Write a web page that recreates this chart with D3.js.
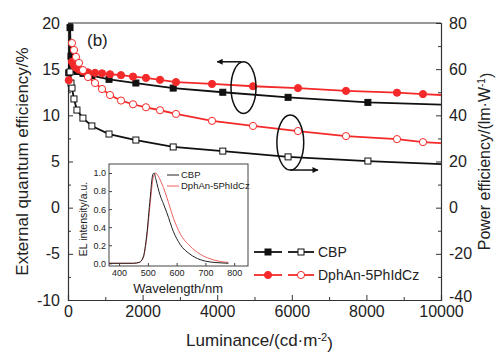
<!DOCTYPE html>
<html>
<head>
<meta charset="utf-8">
<script src="https://cdn.jsdelivr.net/npm/d3@7"></script>
<style>
  body { margin: 0; background: #fff; }
  text { font-family: "Liberation Sans", Arial, sans-serif; fill: #222; }
</style>
</head>
<body>
<svg id="chart" width="496" height="353"></svg>
<script>
// luminance (cd/m2) and efficiencies
var lumCBP = [20, 54, 80, 107, 160, 240, 400, 640, 1100, 1820, 2820, 4150, 5900, 8040, 10000];
var eqeCBP = [14.6, 19.5, 16.4, 15.5, 15.0, 14.75, 14.55, 14.3, 13.9, 13.5, 12.95, 12.5, 11.95, 11.4, 11.15];
var peCBP  = [null, 58.8, 54.0, 51.8, 47.1, 42.3, 38.8, 35.4, 31.9, 29.3, 26.3, 24.5, 22.0, 20.2, 18.9];

var lumDph = [20, 107, 161, 214, 295, 402, 536, 724, 912, 1126, 1421, 1743, 2091, 2467, 2895, 3861, 4960, 6166, 7453, 8820, 9517, 10000];
var eqeDph = [13.8, 15.8, 15.4, 15.15, 14.95, 14.75, 14.65, 14.6, 14.55, 14.45, 14.35, 14.2, 14.05, 13.85, 13.6, 13.4, 13.15, 12.95, 12.65, 12.45, 12.3, 12.2];
var peDph  = [null, 71.3, 68.3, 65.3, 62.7, 59.6, 56.6, 54.0, 51.4, 48.8, 46.4, 44.8, 43.5, 42.2, 40.6, 37.6, 35.4, 33.2, 31.0, 29.7, 28.4, 28.0];

// inset EL spectra
var wl     = [365, 400, 450, 470, 484, 496, 508, 517, 522, 528, 535, 542, 554, 566, 589, 612, 647, 682, 716, 751, 780];
var elCBP  = [0, 0, 0, 0.01, 0.07, 0.31, 0.72, 0.98, 1.0, 0.93, 0.84, 0.76, 0.66, 0.56, 0.35, 0.21, 0.10, 0.04, 0.015, 0.005, 0];
var elDph  = [0, 0, 0, 0.01, 0.06, 0.28, 0.66, 0.92, 0.98, 1.0, 0.97, 0.93, 0.84, 0.73, 0.50, 0.33, 0.19, 0.10, 0.05, 0.02, 0.01];

var xTicks = [0, 2000, 4000, 6000, 8000, 10000];
var yLeftTicks = [-10, -5, 0, 5, 10, 15, 20];
var yRightTicks = [-40, -20, 0, 20, 40, 60, 80];

var black = "#111", red = "#f42a2a";

var margin = { top: 23, right: 55, bottom: 53, left: 68 };
var width = 496 - margin.left - margin.right;   // 373
var height = 353 - margin.top - margin.bottom;  // 277

var svg = d3.select("#chart");
var g = svg.append("g").attr("transform", "translate(" + margin.left + "," + margin.top + ")");

var x = d3.scaleLinear().domain([0, 10000]).range([0, width]);
var yL = d3.scaleLinear().domain([-10, 20]).range([height, 0]);
var yR = d3.scaleLinear().domain([-40, 80]).range([height, 0]);

var plain = function(d) { return String(d); }; // hyphen minus like the original

// axes (ticks pointing inward)
function styleAxis(sel) {
  sel.selectAll("path.domain").attr("stroke", "#333").attr("stroke-width", 1.2);
  sel.selectAll(".tick line").attr("stroke", "#333");
  sel.selectAll("text").style("font-size", "16px").attr("fill", "#222");
}
function minor(sel, axis) { sel.call(axis); sel.selectAll("text").remove(); sel.select(".domain").remove(); sel.selectAll("line").attr("stroke", "#333"); }

var xAxis = g.append("g").attr("transform", "translate(0," + height + ")")
  .call(d3.axisBottom(x).tickValues(xTicks).tickSize(-5).tickPadding(6).tickFormat(plain));
styleAxis(xAxis);
g.append("g").attr("transform", "translate(0," + height + ")")
  .call(function(s) { minor(s, d3.axisBottom(x).tickValues(d3.range(1000, 10000, 2000)).tickSize(-3)); });

var yAxisL = g.append("g").call(d3.axisLeft(yL).tickValues(yLeftTicks).tickSize(-5).tickPadding(8).tickFormat(plain));
styleAxis(yAxisL);
g.append("g").call(function(s) { minor(s, d3.axisLeft(yL).tickValues(d3.range(-7.5, 20, 5)).tickSize(-3)); });

var yAxisR = g.append("g").attr("transform", "translate(" + width + ",0)")
  .call(d3.axisRight(yR).tickValues(yRightTicks).tickSize(-5).tickPadding(8).tickFormat(plain));
styleAxis(yAxisR);
yAxisR.selectAll(".tick text").filter(function(d) { return d === -40; }).attr("dy", "0.1em");
g.append("g").attr("transform", "translate(" + width + ",0)")
  .call(function(s) { minor(s, d3.axisRight(yR).tickValues(d3.range(-30, 80, 20)).tickSize(-3)); });

// top frame
g.append("line").attr("x1", 0).attr("x2", width).attr("y1", 0).attr("y2", 0)
  .attr("stroke", "#333").attr("stroke-width", 1.2);

// axis labels
svg.append("text").attr("transform", "translate(22," + (margin.top + height / 2) + ") rotate(-90)")
  .attr("text-anchor", "middle").attr("dy", "0.35em").style("font-size", "17px")
  .text("External quantum efficiency/%");

var rl = svg.append("text").attr("transform", "translate(484," + (margin.top + height / 2) + ") rotate(-90)")
  .attr("text-anchor", "middle").attr("dy", "0.35em").style("font-size", "16px");
rl.append("tspan").text("Power efficiency/(lm\u00B7W");
rl.append("tspan").attr("dy", "-0.45em").style("font-size", "10px").text("-1");
rl.append("tspan").attr("dy", "0.45em").text(")");

var xl = svg.append("text").attr("x", margin.left + width / 2 + 5).attr("y", 346)
  .attr("text-anchor", "middle").style("font-size", "17px");
xl.append("tspan").text("Luminance/(cd\u00B7m");
xl.append("tspan").attr("dy", "-0.45em").style("font-size", "11px").text("-2");
xl.append("tspan").attr("dy", "0.45em").text(")");

g.append("text").attr("x", 19).attr("y", 23).style("font-size", "17px").text("(b)");

// series
function pairs(lum, vals) { return lum.map(function(l, i) { return [l, vals[i]]; }); }
var series = [
  { data: pairs(lumCBP, eqeCBP), y: yL, color: black, filled: true, shape: "square" },
  { data: pairs(lumCBP, peCBP), y: yR, color: black, filled: false, shape: "square" },
  { data: pairs(lumDph, eqeDph), y: yL, color: red, filled: true, shape: "circle" },
  { data: pairs(lumDph, peDph), y: yR, color: red, filled: false, shape: "circle" }
];

function drawMarker(sel, s) {
  if (s.shape === "square") {
    sel.append("rect").attr("x", -3).attr("y", -3).attr("width", 6).attr("height", 6)
      .attr("fill", s.filled ? s.color : "#fff").attr("stroke", s.color).attr("stroke-width", 1);
  } else {
    sel.append("circle").attr("r", 3.6)
      .attr("fill", s.filled ? s.color : "#fff").attr("stroke", s.color).attr("stroke-width", 1);
  }
}

series.forEach(function(s) {
  var line = d3.line().defined(function(d) { return d[1] != null; })
    .x(function(d) { return x(d[0]); }).y(function(d) { return s.y(d[1]); });
  g.append("path").datum(s.data).attr("fill", "none").attr("stroke", s.color)
    .attr("stroke-width", 1.8).attr("d", line);
});
series.forEach(function(s) {
  g.selectAll(null).data(s.data.filter(function(d) { return d[1] != null && d[0] < 10000; }))
    .enter().append("g")
    .attr("transform", function(d) { return "translate(" + x(d[0]) + "," + s.y(d[1]) + ")"; })
    .each(function() { drawMarker(d3.select(this), s); });
});

// annotation ellipses and arrows
svg.append("defs").append("marker").attr("id", "arr").attr("viewBox", "0 0 10 10")
  .attr("refX", 9).attr("refY", 5).attr("markerWidth", 9).attr("markerHeight", 6)
  .attr("markerUnits", "userSpaceOnUse").attr("orient", "auto")
  .append("path").attr("d", "M0,0L10,5L0,10z").attr("fill", "#111");

var ann = [
  { cx: 4705, cy: 13.0, rx: 335, ry: 2.8, ax: 4650, ay: 15.8, bx: 4000, axis: yL },
  { cx: 5960, cy: 28.2, rx: 360, ry: 11.9, ax: 5960, ay: 16.3, bx: 6700, axis: yR }
];
ann.forEach(function(a) {
  var yy = a.axis;
  g.append("ellipse").attr("cx", x(a.cx)).attr("cy", yy(a.cy))
    .attr("rx", x(a.rx) - x(0)).attr("ry", yy(0) - yy(a.ry))
    .attr("fill", "none").attr("stroke", "#111").attr("stroke-width", 1.5);
  g.append("line").attr("x1", x(a.ax)).attr("y1", yy(a.ay)).attr("x2", x(a.bx)).attr("y2", yy(a.ay))
    .attr("stroke", "#111").attr("stroke-width", 1.5).attr("marker-end", "url(#arr)");
});

// legend
var legendItems = [
  { name: "CBP", color: black, shape: "square", y: 229 },
  { name: "DphAn-5PhIdCz", color: red, shape: "circle", y: 252 }
];
legendItems.forEach(function(it) {
  var lg = g.append("g").attr("transform", "translate(0," + it.y + ")");
  lg.append("line").attr("x1", 186).attr("x2", 214).attr("stroke", it.color).attr("stroke-width", 1.8);
  lg.append("line").attr("x1", 220).attr("x2", 246).attr("stroke", it.color).attr("stroke-width", 1.8);
  drawMarker(lg.append("g").attr("transform", "translate(200,0)"), { color: it.color, filled: true, shape: it.shape });
  drawMarker(lg.append("g").attr("transform", "translate(233,0)"), { color: it.color, filled: false, shape: it.shape });
  lg.append("text").attr("x", 250).attr("dy", "0.35em").style("font-size", "14px").text(it.name);
});

// inset
var inset = { left: 109, top: 164, w: 139, h: 102 };
var ig = svg.append("g").attr("transform", "translate(" + inset.left + "," + inset.top + ")");
ig.append("rect").attr("width", inset.w).attr("height", inset.h).attr("fill", "#fff")
  .attr("stroke", "#444").attr("stroke-width", 1);
var ix = d3.scaleLinear().domain([365, 848]).range([0, inset.w]);
var iy = d3.scaleLinear().domain([-0.03, 1.1]).range([inset.h, 0]);

var ixa = ig.append("g").attr("transform", "translate(0," + inset.h + ")")
  .call(d3.axisBottom(ix).tickValues([400, 500, 600, 700, 800]).tickSize(-3).tickPadding(4));
var iya = ig.append("g").call(d3.axisLeft(iy).tickValues([0, 0.2, 0.4, 0.6, 0.8, 1.0])
  .tickSize(-3).tickPadding(3).tickFormat(d3.format(".1f")));
[ixa, iya].forEach(function(a) {
  a.select(".domain").remove();
  a.selectAll(".tick line").attr("stroke", "#444");
  a.selectAll("text").style("font-size", "9px").attr("fill", "#444");
});

var sl = d3.line().curve(d3.curveMonotoneX).x(function(d) { return ix(d[0]); }).y(function(d) { return iy(d[1]); });
ig.append("path").datum(pairs(wl, elDph)).attr("fill", "none").attr("stroke", "#f06060").attr("stroke-width", 1).attr("d", sl);
ig.append("path").datum(pairs(wl, elCBP)).attr("fill", "none").attr("stroke", "#222").attr("stroke-width", 1).attr("d", sl);

ig.append("text").attr("x", ix(605)).attr("y", inset.h + 27).attr("text-anchor", "middle")
  .style("font-size", "13px").text("Wavelength/nm");
ig.append("text").attr("transform", "translate(-22," + (inset.h / 2 + 4) + ") rotate(-90)")
  .attr("text-anchor", "middle").style("font-size", "10.5px").text("EL intensity/a.u.");

var il = [{ name: "CBP", color: "#222", y: 11 }, { name: "DphAn-5PhIdCz", color: "#f06060", y: 22 }];
il.forEach(function(it) {
  ig.append("line").attr("x1", 58).attr("x2", 70).attr("y1", it.y).attr("y2", it.y)
    .attr("stroke", it.color).attr("stroke-width", 1);
  ig.append("text").attr("x", 72).attr("y", it.y).attr("dy", "0.35em")
    .style("font-size", "9.5px").attr("fill", "#333").text(it.name);
});
</script>
</body>
</html>
